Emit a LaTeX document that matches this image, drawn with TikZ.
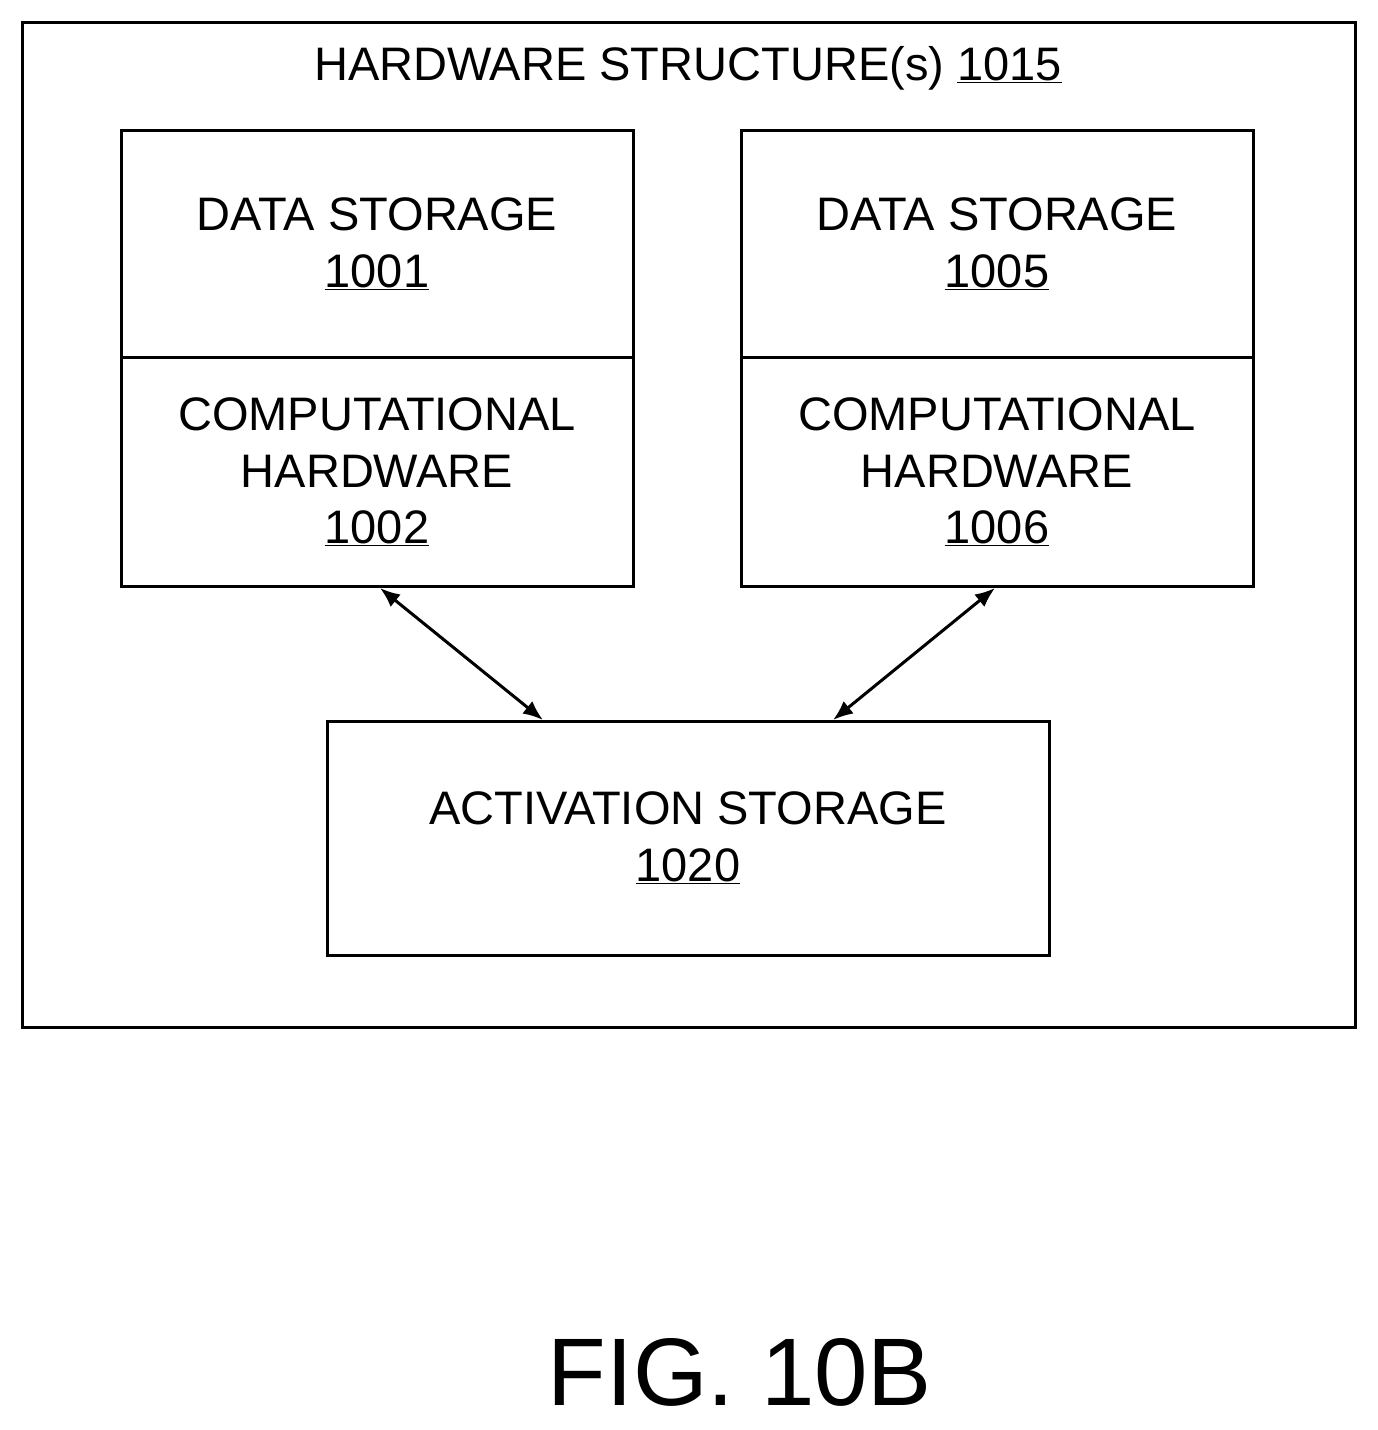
\documentclass[tikz,border=0pt]{standalone}
\usetikzlibrary{arrows.meta}
\usepackage{fontspec}
\setmainfont{Liberation Sans}
\begin{document}
\begin{tikzpicture}[x=1pt,y=-1pt,
  box/.style={draw,line width=3pt},
  t/.style={anchor=base,inner sep=0pt,font=\fontsize{47}{56}\selectfont},
  arr/.style={line width=3pt,<->,>={Latex[length=20pt,width=16pt]}}]
\useasboundingbox (0,0) rectangle (1377,1430);
\draw[box] (22,22) rectangle (1355,1027);
\node[t] (h) at (688,80) {HARDWARE STRUCTURE(s) \underline{1015}};
% left
\node[box,minimum width=512pt,minimum height=227pt,inner sep=0pt] (ds1) at (377,243.5) {};
\node[box,minimum width=512pt,minimum height=229pt,inner sep=0pt] (ch1) at (377,471.5) {};
\node[t] at (377,230) {DATA STORAGE};
\node[t] at (377,287) {\underline{1001}};
\node[t] at (377,430) {COMPUTATIONAL};
\node[t] at (377,487) {HARDWARE};
\node[t] at (377,543) {\underline{1002}};
% right
\node[box,minimum width=512pt,minimum height=227pt,inner sep=0pt] (ds2) at (997,243.5) {};
\node[box,minimum width=512pt,minimum height=229pt,inner sep=0pt] (ch2) at (997,471.5) {};
\node[t] at (997,230) {DATA STORAGE};
\node[t] at (997,287) {\underline{1005}};
\node[t] at (997,430) {COMPUTATIONAL};
\node[t] at (997,487) {HARDWARE};
\node[t] at (997,543) {\underline{1006}};
% activation
\node[box,minimum width=722pt,minimum height=234pt,inner sep=0pt] (act) at (688,838) {};
\node[t] at (688,824) {ACTIVATION STORAGE};
\node[t] at (688,881) {\underline{1020}};
\coordinate (a1) at (380,588); \coordinate (b1) at (543,720);
\coordinate (a2) at (995,588); \coordinate (b2) at (833,720);
\draw[arr] (a1) -- (b1);
\draw[arr] (a2) -- (b2);
\node[anchor=base,inner sep=0pt,font=\fontsize{96}{110}\selectfont] (fig) at (740,1405) {FIG. 10B};
\end{tikzpicture}
\end{document}
